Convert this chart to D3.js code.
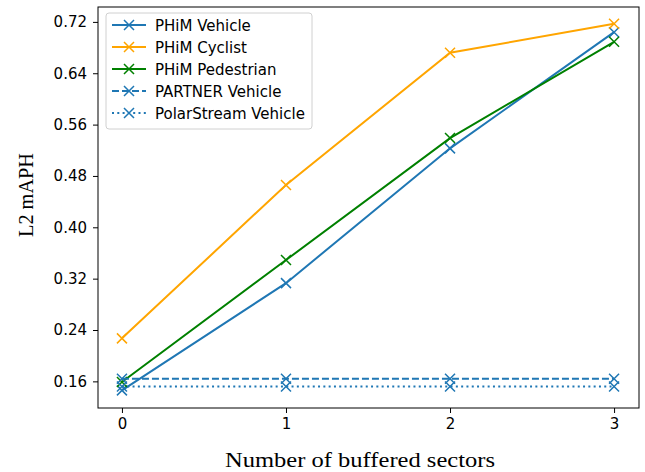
<!DOCTYPE html>
<html>
<head>
<meta charset="utf-8">
<script src="https://cdn.jsdelivr.net/npm/d3@7"></script>
<style>
  html, body { margin: 0; padding: 0; background: #fff; }
  svg { display: block; }
</style>
</head>
<body>
<svg id="chart" width="645" height="472"></svg>
<script>
// Buffered sectors on the x axis
const sectors = [0, 1, 2, 3];

// L2 mAPH per method
const phimVehicle = [0.146, 0.313, 0.523, 0.704];
const phimCyclist = [0.227, 0.466, 0.672, 0.717];
const phimPedestrian = [0.159, 0.349, 0.539, 0.689];
const partnerVehicle = [0.164, 0.164, 0.164, 0.164];
const polarStreamVehicle = [0.152, 0.152, 0.152, 0.152];

const yTicks = [0.16, 0.24, 0.32, 0.40, 0.48, 0.56, 0.64, 0.72];

const series = [
  { name: "PHiM Vehicle", values: phimVehicle, color: "#1f77b4", dash: null },
  { name: "PHiM Cyclist", values: phimCyclist, color: "#ffa500", dash: null },
  { name: "PHiM Pedestrian", values: phimPedestrian, color: "#008000", dash: null },
  { name: "PARTNER Vehicle", values: partnerVehicle, color: "#1f77b4", dash: "7,3" },
  { name: "PolarStream Vehicle", values: polarStreamVehicle, color: "#1f77b4", dash: "2,3.3" }
];

const svg = d3.select("#chart");
const plotLeft = 98, plotRight = 639, plotTop = 7, plotBottom = 408;

const x = d3.scaleLinear().domain([-0.146, 3.152]).range([plotLeft, plotRight]);
const y = d3.scaleLinear().domain([0.1185, 0.7432]).range([plotBottom, plotTop]);

const tickFont = "DejaVu Sans, sans-serif";

// Axes
const xAxis = d3.axisBottom(x).tickValues(sectors).tickFormat(d3.format("d")).tickSize(5).tickPadding(5);
const yAxis = d3.axisLeft(y).tickValues(yTicks).tickFormat(d3.format(".2f")).tickSize(5).tickPadding(6);

const gx = svg.append("g").attr("transform", `translate(0,${plotBottom})`).call(xAxis);
const gy = svg.append("g").attr("transform", `translate(${plotLeft},0)`).call(yAxis);
[gx, gy].forEach(g => {
  g.select(".domain").remove();
  g.selectAll(".tick line").attr("stroke", "#000").attr("stroke-width", 1);
  g.selectAll(".tick text").attr("font-family", tickFont).attr("font-size", 15).attr("fill", "#000");
});

// Lines and markers
const line = d3.line().x((d, i) => x(sectors[i])).y(d => y(d));
const plot = svg.append("g");
series.forEach(s => {
  plot.append("path")
    .attr("d", line(s.values))
    .attr("fill", "none")
    .attr("stroke", s.color)
    .attr("stroke-width", 2)
    .attr("stroke-dasharray", s.dash);
  const m = 5;
  s.values.forEach((v, i) => {
    const cx = x(sectors[i]), cy = y(v);
    plot.append("path")
      .attr("d", `M${cx - m},${cy - m}L${cx + m},${cy + m}M${cx - m},${cy + m}L${cx + m},${cy - m}`)
      .attr("stroke", s.color)
      .attr("stroke-width", 1.5)
      .attr("fill", "none");
  });
});

// Frame
svg.append("rect")
  .attr("x", plotLeft).attr("y", plotTop)
  .attr("width", plotRight - plotLeft).attr("height", plotBottom - plotTop)
  .attr("fill", "none").attr("stroke", "#000").attr("stroke-width", 1);

// Legend
const lg = svg.append("g").attr("transform", "translate(106,13)");
lg.append("rect")
  .attr("width", 206).attr("height", 116).attr("rx", 3)
  .attr("fill", "#fff").attr("fill-opacity", 0.8)
  .attr("stroke", "#d0d0d0").attr("stroke-width", 1);
series.forEach((s, i) => {
  const ly = 12 + i * 22;
  lg.append("line")
    .attr("x1", 6).attr("x2", 40).attr("y1", ly).attr("y2", ly)
    .attr("stroke", s.color).attr("stroke-width", 2)
    .attr("stroke-dasharray", s.dash);
  const mx = 23, m = 5;
  lg.append("path")
    .attr("d", `M${mx - m},${ly - m}L${mx + m},${ly + m}M${mx - m},${ly + m}L${mx + m},${ly - m}`)
    .attr("stroke", s.color).attr("stroke-width", 1.5);
  lg.append("text")
    .attr("x", 49).attr("y", ly + 5.5)
    .attr("font-family", tickFont).attr("font-size", 15)
    .attr("fill", "#000")
    .text(s.name);
});

// Axis titles
svg.append("text")
  .attr("x", 360).attr("y", 467)
  .attr("text-anchor", "middle")
  .attr("font-family", "Liberation Serif, serif").attr("font-size", 21)
  .attr("textLength", 270).attr("lengthAdjust", "spacingAndGlyphs")
  .attr("fill", "#000")
  .text("Number of buffered sectors");

svg.append("text")
  .attr("transform", "translate(33,195) rotate(-90)")
  .attr("text-anchor", "middle")
  .attr("font-family", "Liberation Serif, serif").attr("font-size", 21)
  .attr("textLength", 84).attr("lengthAdjust", "spacingAndGlyphs")
  .attr("fill", "#000")
  .text("L2 mAPH");
</script>
</body>
</html>
